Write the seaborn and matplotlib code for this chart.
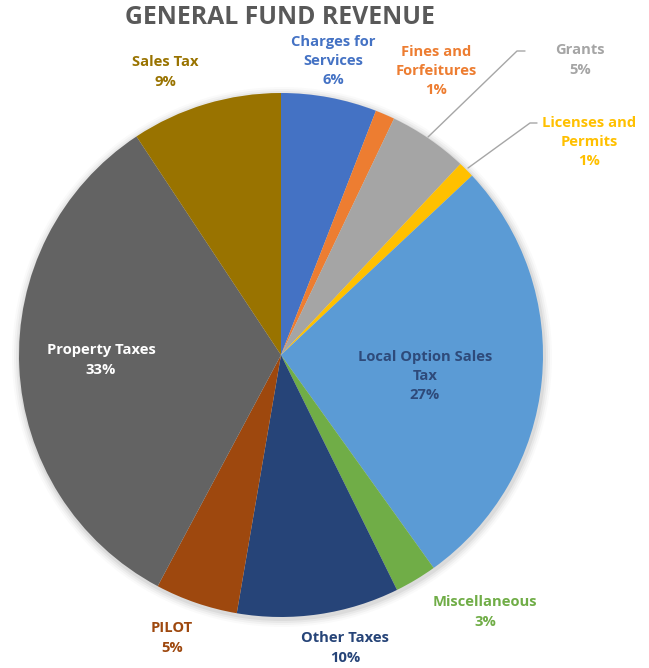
import matplotlib
matplotlib.use('Agg')
import matplotlib.pyplot as plt
import seaborn as sns
from matplotlib.patches import Circle

# data (clockwise from 12 o'clock)
categories = ['Charges for\nServices', 'Fines and\nForfeitures', 'Grants', 'Licenses and\nPermits',
              'Local Option Sales\nTax', 'Miscellaneous', 'Other Taxes', 'PILOT',
              'Property Taxes', 'Sales Tax']
shares = [5.9, 1.2, 4.9, 1.0, 27.1, 2.6, 10.0, 5.1, 32.9, 9.3]

colors = ['#4472C4', '#ED7D31', '#A5A5A5', '#FFC000', '#5B9BD5',
          '#70AD47', '#264478', '#9E480E', '#636363', '#997300']
label_colors = ['#4472C4', '#ED7D31', '#A5A5A5', '#FFC000', '#2E4A7A',
                '#70AD47', '#264478', '#9E480E', '#FFFFFF', '#997300']

# label positions in pixels (x, y from top)
label_pos = [(333, 61), (436, 71), (580, 60), (589, 142), (425, 376),
             (485, 612), (345, 648), (172, 638), (101, 360), (165, 72)]

W, H = 649, 668
CX, CY, R = 281, 355, 262

sns.set_theme(style='white')
plt.rcParams['font.family'] = ['Open Sans', 'DejaVu Sans']

fig = plt.figure(figsize=(W / 100, H / 100), dpi=100)
ax = fig.add_axes([0, 0, 1, 1])

# soft shadow around the pie
for i, a in enumerate([0.05, 0.04, 0.03, 0.02]):
    ax.add_patch(Circle((CX + 1, H - CY - 2), R + 2 + i * 2, color='#000000', alpha=a, lw=0))

ax.pie(shares, colors=colors, startangle=90, counterclock=False,
       center=(CX, H - CY), radius=R, frame=True,
       wedgeprops=dict(linewidth=0))
ax.set_xlim(0, W)
ax.set_ylim(0, H)
ax.set_aspect('equal')
ax.axis('off')

total = sum(shares)
for name, val, col, (lx, ly) in zip(categories, shares, label_colors, label_pos):
    pct = f'{round(val / total * 100):.0f}%'
    ax.text(lx, H - ly, f'{name}\n{pct}', ha='center', va='center',
            color=col, fontsize=10.6, fontweight='bold', linespacing=1.46)

# leader lines for Grants and Licenses
ax.plot([428, 517, 525], [H - 137, H - 51, H - 51], color='#A6A6A6', lw=1)
ax.plot([468, 530, 537], [H - 168, H - 123, H - 123], color='#A6A6A6', lw=1)

ax.text(280, H - 17, 'GENERAL FUND REVENUE', ha='center', va='center',
        color='#595959', fontsize=17.8, fontweight='bold')

fig.savefig('out.png', dpi=100)
